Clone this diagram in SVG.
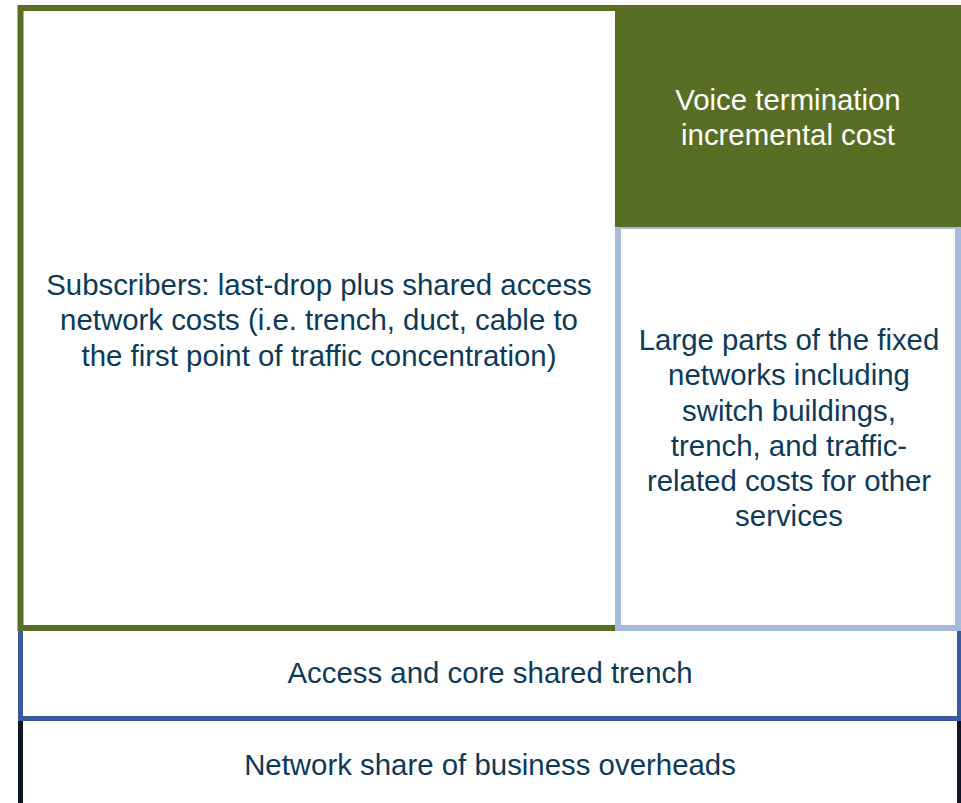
<svg xmlns="http://www.w3.org/2000/svg" width="961" height="803" viewBox="0 0 961 803">
<style>
text{font-family:"Liberation Sans",Arial,sans-serif;font-size:29.4px;fill:#0C3B5A;text-anchor:middle}
.w{fill:#FFFFFF}
</style>
<rect width="961" height="803" fill="#FFFFFF"/>
<g id="overheads">
<rect x="20.5" y="718.5" width="939" height="100" fill="#FFFFFF" stroke="#0D1526" stroke-width="5"/>
<text x="490" y="775">Network share of business overheads</text>
</g>
<g id="shared-trench">
<rect x="20.5" y="628.5" width="939" height="90" fill="#FFFFFF" stroke="#3A5A9F" stroke-width="5"/>
<text x="490" y="683">Access and core shared trench</text>
</g>
<g id="subscribers">
<rect x="20.5" y="8" width="945" height="620" fill="#FFFFFF" stroke="#586E24" stroke-width="6"/>
<text x="319" y="294.5">Subscribers: last-drop plus shared access</text>
<text x="319" y="330">network costs (i.e. trench, duct, cable to</text>
<text x="319" y="365.5">the first point of traffic concentration)</text>
</g>
<g id="fixed-networks">
<rect x="618" y="226" width="340" height="402" fill="#FFFFFF" stroke="#A7B9DD" stroke-width="6"/>
<text x="789" y="349.5">Large parts of the fixed</text>
<text x="789" y="385">networks including</text>
<text x="789" y="420.5">switch buildings,</text>
<text x="789" y="455.5">trench, and traffic-</text>
<text x="789" y="490.5">related costs for other</text>
<text x="789" y="525.5">services</text>
</g>
<g id="voice">
<rect x="615" y="5" width="346" height="222" fill="#586E24"/>
<text class="w" x="788" y="110">Voice termination</text>
<text class="w" x="788" y="145">incremental cost</text>
</g>
<g id="connectors"></g>
</svg>
